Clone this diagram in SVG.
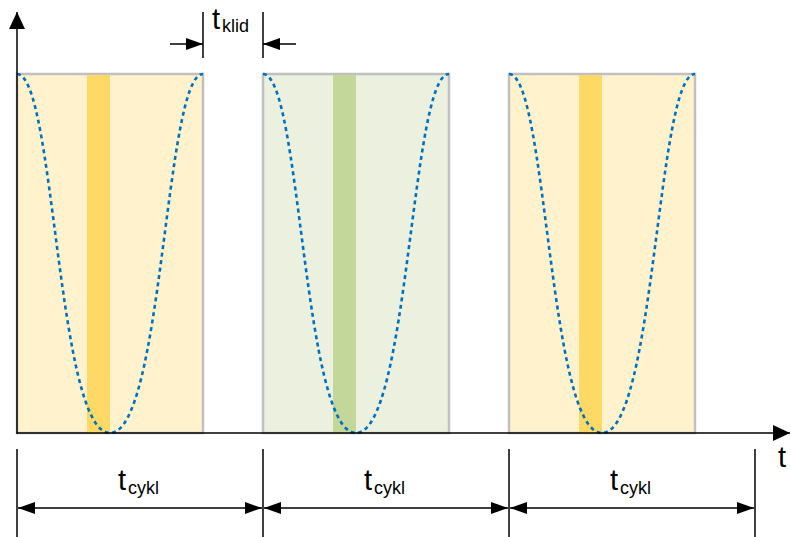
<svg xmlns="http://www.w3.org/2000/svg" width="791" height="537" viewBox="0 0 791 537">
<style>
.box{stroke:#c0c0c0;stroke-width:2.5}
.y{fill:#fff2cc}
.g{fill:#ebf1de}
.sy{fill:#ffd966}
.sg{fill:#c4d79b}
.curve{fill:none;stroke:#0070c0;stroke-width:2.6;stroke-dasharray:4 3.5}
.ln{stroke:#000;stroke-width:1.5;fill:none}
.txt{font-family:"Liberation Sans",Arial,sans-serif;fill:#000}
.big{font-size:29px}
.sub{font-size:18px}
</style>
<defs>
<marker id="ah" markerWidth="17" markerHeight="12" refX="17" refY="6" orient="auto-start-reverse" markerUnits="userSpaceOnUse">
<path d="M0,0 L17,6 L0,12 Z" fill="#000"/>
</marker>
<marker id="axh" markerWidth="17" markerHeight="16" refX="17" refY="8" orient="auto" markerUnits="userSpaceOnUse">
<path d="M0,0 L17,8 L0,16 Z" fill="#000"/>
</marker>
</defs>

<g id="cycle1">
<rect class="box y" x="17" y="74" width="186" height="359"/>
<rect class="sy" x="87" y="75" width="23" height="358"/>
<path class="curve" d="M17,74 C55,74 57,433 110,433 C163,433 165,74 203,74"/>
</g>
<g id="cycle2">
<rect class="box g" x="263" y="74" width="186" height="359"/>
<rect class="sg" x="333" y="75" width="23" height="358"/>
<path class="curve" d="M263,74 C301,74 303,433 356,433 C409,433 411,74 449,74"/>
</g>
<g id="cycle3">
<rect class="box y" x="509" y="74" width="186" height="359"/>
<rect class="sy" x="579" y="75" width="23" height="358"/>
<path class="curve" d="M509,74 C547,74 549,433 602,433 C655,433 657,74 695,74"/>
</g>

<g id="axes">
<line class="ln" x1="17" y1="434" x2="17" y2="12" marker-end="url(#axh)"/>
<line class="ln" x1="17" y1="433" x2="790" y2="433" marker-end="url(#axh)"/>
<text class="txt big" x="778" y="467">t</text>
</g>

<g id="connectors">
<line class="ln" x1="203" y1="12" x2="203" y2="58"/>
<line class="ln" x1="263" y1="12" x2="263" y2="58"/>
<line class="ln" x1="170" y1="44" x2="203" y2="44" marker-end="url(#ah)"/>
<line class="ln" x1="296" y1="44" x2="263" y2="44" marker-end="url(#ah)"/>
<line class="ln" x1="17" y1="449" x2="17" y2="537"/>
<line class="ln" x1="263" y1="449" x2="263" y2="537"/>
<line class="ln" x1="509" y1="449" x2="509" y2="537"/>
<line class="ln" x1="755" y1="449" x2="755" y2="537"/>
<line class="ln" x1="18" y1="508" x2="262" y2="508" marker-start="url(#ah)" marker-end="url(#ah)"/>
<line class="ln" x1="264" y1="508" x2="508" y2="508" marker-start="url(#ah)" marker-end="url(#ah)"/>
<line class="ln" x1="510" y1="508" x2="754" y2="508" marker-start="url(#ah)" marker-end="url(#ah)"/>
</g>

<g id="labels">
<text class="txt" x="212" y="29"><tspan class="big">t</tspan><tspan class="sub" dx="2" dy="3">klid</tspan></text>
<text class="txt" x="118" y="490"><tspan class="big">t</tspan><tspan class="sub" dx="2" dy="4">cykl</tspan></text>
<text class="txt" x="364" y="490"><tspan class="big">t</tspan><tspan class="sub" dx="2" dy="4">cykl</tspan></text>
<text class="txt" x="610" y="490"><tspan class="big">t</tspan><tspan class="sub" dx="2" dy="4">cykl</tspan></text>
</g>
</svg>
